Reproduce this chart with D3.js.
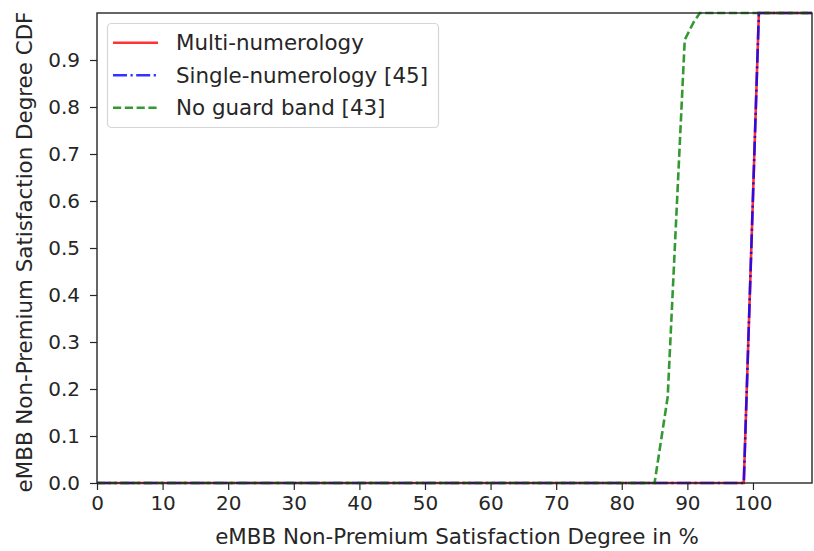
<!DOCTYPE html>
<html><head><meta charset="utf-8">
<script src="https://cdn.jsdelivr.net/npm/d3@7"></script>
<style>body{margin:0;background:#fff;} svg{display:block;font-family:"DejaVu Sans",sans-serif;}</style>
</head><body><svg id="c" width="814" height="551"></svg>
<script>
const xTicks = [0,10,20,30,40,50,60,70,80,90,100];
const yTicks = [0,0.1,0.2,0.3,0.4,0.5,0.6,0.7,0.8,0.9];
const multiX = [0, 98.6, 100.9, 109];
const multiY = [0, 0, 1, 1];
const singleX = [0, 98.6, 100.9, 109];
const singleY = [0, 0, 1, 1];
const noGuardX = [0, 85.0, 87.0, 89.6, 90.9, 91.9, 109];
const noGuardY = [0, 0, 0.183, 0.943, 0.979, 1, 1];
const seriesNames = ["Multi-numerology","Single-numerology [45]","No guard band [43]"];

const M = {l:97, r:812, t:13, b:483};
const svg = d3.select("#c");
const x = d3.scaleLinear().domain([0,109]).range([M.l,M.r]);
const y = d3.scaleLinear().domain([0,1]).range([M.b,M.t]);

const series = [
  {name:seriesNames[0], xs:multiX, ys:multiY, color:"rgba(255,0,0,0.8)", dash:null},
  {name:seriesNames[1], xs:singleX, ys:singleY, color:"rgba(0,0,255,0.8)", dash:"14,3.5,2.2,3.5"},
  {name:seriesNames[2], xs:noGuardX, ys:noGuardY, color:"rgba(0,128,0,0.8)", dash:"8.2,3.6"}
];
svg.append("clipPath").attr("id","cp").append("rect")
  .attr("x",M.l).attr("y",M.t-2).attr("width",M.r-M.l).attr("height",M.b-M.t+4);
const line = d3.line().x(d=>x(d[0])).y(d=>y(d[1]));
series.forEach(s=>{
  svg.append("path").datum(s.xs.map((v,i)=>[v,s.ys[i]]))
    .attr("d",line).attr("fill","none").attr("stroke",s.color)
    .attr("stroke-width",2.6).attr("stroke-dasharray",s.dash)
    .attr("clip-path","url(#cp)");
});

const FS_T = 20, FS_L = 21.4;
const xAxis = d3.axisBottom(x).tickValues(xTicks).tickSize(7).tickPadding(6).tickFormat(d3.format("d"));
const gx = svg.append("g").attr("transform",`translate(0,${M.b})`).call(xAxis);
const yAxis = d3.axisLeft(y).tickValues(yTicks).tickSize(7).tickPadding(10).tickFormat(d3.format(".1f"));
const gy = svg.append("g").attr("transform",`translate(${M.l},0)`).call(yAxis);
[gx,gy].forEach(g=>{
  g.select(".domain").remove();
  g.selectAll("text").attr("font-size",FS_T).attr("fill","#262626").attr("font-family","DejaVu Sans");
  g.selectAll("line").attr("stroke","#262626").attr("stroke-width",1.2);
});
svg.append("rect").attr("x",M.l).attr("y",M.t).attr("width",M.r-M.l).attr("height",M.b-M.t)
  .attr("fill","none").attr("stroke","#262626").attr("stroke-width",1.4);

svg.append("text").attr("x",457).attr("y",544).attr("text-anchor","middle")
  .attr("font-size",FS_L).attr("fill","#262626").text("eMBB Non-Premium Satisfaction Degree in %");
svg.append("text").attr("transform",`translate(32,${(M.t+M.b)/2+4}) rotate(-90)`).attr("text-anchor","middle")
  .attr("font-size",FS_L).attr("fill","#262626").text("eMBB Non-Premium Satisfaction Degree CDF");

const lg = svg.append("g");
lg.append("rect").attr("x",107.5).attr("y",23.5).attr("width",331).attr("height",104).attr("rx",4)
  .attr("fill","rgba(255,255,255,0.8)").attr("stroke","#d6d6d6").attr("stroke-width",1.2);
series.forEach((s,i)=>{
  const yy = 42.7 + i*32.5;
  lg.append("line").attr("x1",113).attr("x2",158).attr("y1",yy).attr("y2",yy)
    .attr("stroke",s.color).attr("stroke-width",2.6).attr("stroke-dasharray",s.dash);
  lg.append("text").attr("x",176).attr("y",yy+7.5).attr("font-size",FS_L).attr("fill","#262626").text(s.name);
});
</script></body></html>
